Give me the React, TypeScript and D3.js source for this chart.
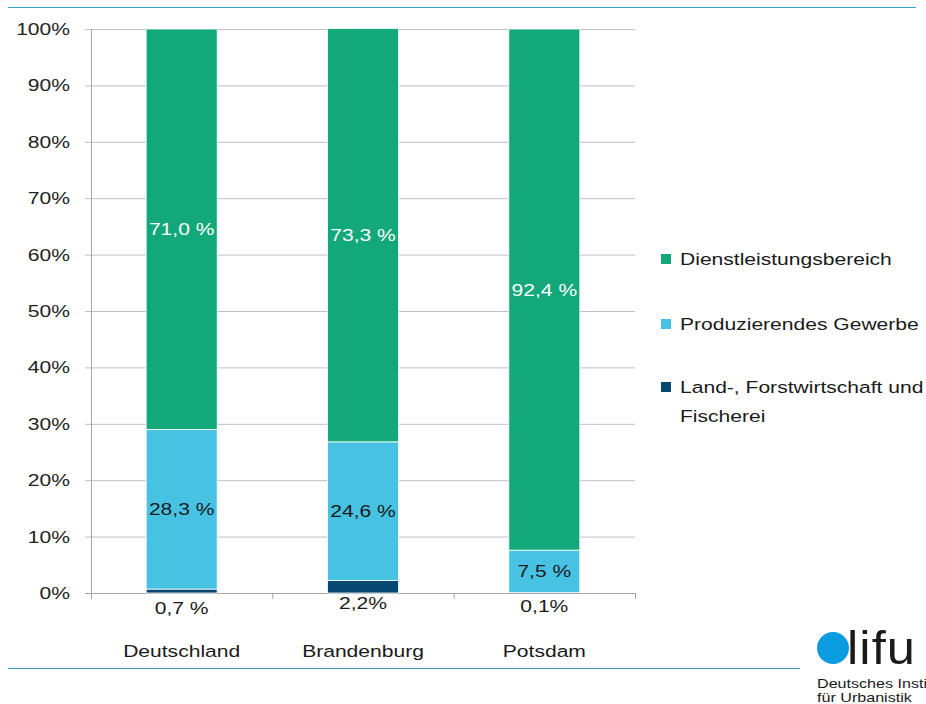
import React from "react";
import * as d3 from "d3";

const categories = ["Deutschland", "Brandenburg", "Potsdam"];
const seriesNames = ["Land-, Forstwirtschaft und Fischerei", "Produzierendes Gewerbe", "Dienstleistungsbereich"];
const agriculture = [0.7, 2.2, 0.1];
const industry = [28.3, 24.6, 7.5];
const services = [71.0, 73.3, 92.4];
const agricultureLabels = ["0,7 %", "2,2%", "0,1%"];
const industryLabels = ["28,3 %", "24,6 %", "7,5 %"];
const servicesLabels = ["71,0 %", "73,3 %", "92,4 %"];
const yTicks = [0, 10, 20, 30, 40, 50, 60, 70, 80, 90, 100];

const colors = ["#064872", "#48c2e3", "#12a87a"];
const FONT = "'Liberation Sans', Arial, sans-serif";
const SX = 1.24;

function T(props: { x: number; y: number; anchor?: string; size?: number; fill?: string; children: React.ReactNode; weight?: number }) {
  const { x, y, anchor = "start", size = 17, fill = "#1a1a1a", children, weight } = props;
  return (
    <text transform={`translate(${x},${y}) scale(${SX},1)`} textAnchor={anchor} fontFamily={FONT} fontSize={size} fill={fill} fontWeight={weight}>
      {children}
    </text>
  );
}

export default function App() {
  const W = 926, H = 704;
  const left = 91, right = 635, top = 29, bottom = 593;
  const x = d3.scaleBand().domain(categories).range([left, right]).paddingInner(0).paddingOuter(0);
  const y = d3.scaleLinear().domain([0, 100]).range([bottom, top]);
  const barW = 71;

  const rows = categories.map((c, i) => {
    const vals = [agriculture[i], industry[i], services[i]];
    const stack: { y0: number; y1: number }[] = [];
    let acc = 0;
    vals.forEach((v) => {
      stack.push({ y0: acc, y1: acc + v });
      acc += v;
    });
    return { c, stack };
  });
  const lowLabelY = [608, 603, 606];

  return (
    <svg width={W} height={H} style={{ position: "absolute", left: 0, top: 0, background: "#fff" }}>
      <line x1={8} x2={916} y1={7.5} y2={7.5} stroke="#3d9dcc" strokeWidth={1.2} />
      <line x1={8} x2={800} y1={668.5} y2={668.5} stroke="#3d9dcc" strokeWidth={1.2} />
      {yTicks.map((t) => (
        <g key={t}>
          <line x1={85} x2={right} y1={y(t) + 0.5} y2={y(t) + 0.5} stroke={t === 0 ? "#a6a6a6" : "#bfbfbf"} strokeWidth={1} />
          <T x={70} y={y(t) + 6} anchor="end" size={17} fill="#222">{t}%</T>
        </g>
      ))}
      <line x1={left + 0.5} x2={left + 0.5} y1={top} y2={bottom} stroke="#a6a6a6" />
      {[...categories.map((c) => x(c)!), right].map((px, i) => (
        <line key={i} x1={px + 0.5} x2={px + 0.5} y1={bottom} y2={bottom + 6} stroke="#a6a6a6" />
      ))}
      {rows.map(({ c, stack }, i) => {
        const cx = x(c)! + x.bandwidth() / 2;
        return (
          <g key={c}>
            {stack.map((s, k) => (
              <rect key={k} x={cx - barW / 2} y={y(s.y1)} width={barW} height={Math.max(0, y(s.y0) - y(s.y1))}
                fill={colors[k]} stroke="#fff" strokeWidth={k === 0 && s.y1 - s.y0 < 0.5 ? 0 : 0.8} />
            ))}
            <T x={cx} y={(y(stack[2].y0) + y(stack[2].y1)) / 2 + 6} anchor="middle" fill="#fff">{servicesLabels[i]}</T>
            <T x={cx} y={(y(stack[1].y0) + y(stack[1].y1)) / 2 + 6} anchor="middle">{industryLabels[i]}</T>
            <T x={cx} y={lowLabelY[i] + 6} anchor="middle">{agricultureLabels[i]}</T>
            <T x={cx} y={657} anchor="middle">{c}</T>
          </g>
        );
      })}
      {[
        { k: 2, y: 259, lines: [seriesNames[2]] },
        { k: 1, y: 324, lines: [seriesNames[1]] },
        { k: 0, y: 387, lines: ["Land-, Forstwirtschaft und", "Fischerei"] },
      ].map((l) => (
        <g key={l.k}>
          <rect x={661} y={l.y - 5} width={10} height={10} fill={colors[l.k]} />
          {l.lines.map((t, j) => (
            <T key={j} x={680} y={l.y + 6 + j * 29}>{t}</T>
          ))}
        </g>
      ))}
      <g>
        <circle cx={833} cy={648} r={16} fill="#0a9be0" />
        <text transform={`translate(847,664) scale(1.1,1)`} fontFamily={FONT} fontSize={46} fill="#1a1a1a" fontWeight={300} letterSpacing={1}>lifu</text>
        <T x={817} y={688} size={13}>Deutsches Institut</T>
        <T x={817} y={702} size={13}>für Urbanistik</T>
      </g>
    </svg>
  );
}
